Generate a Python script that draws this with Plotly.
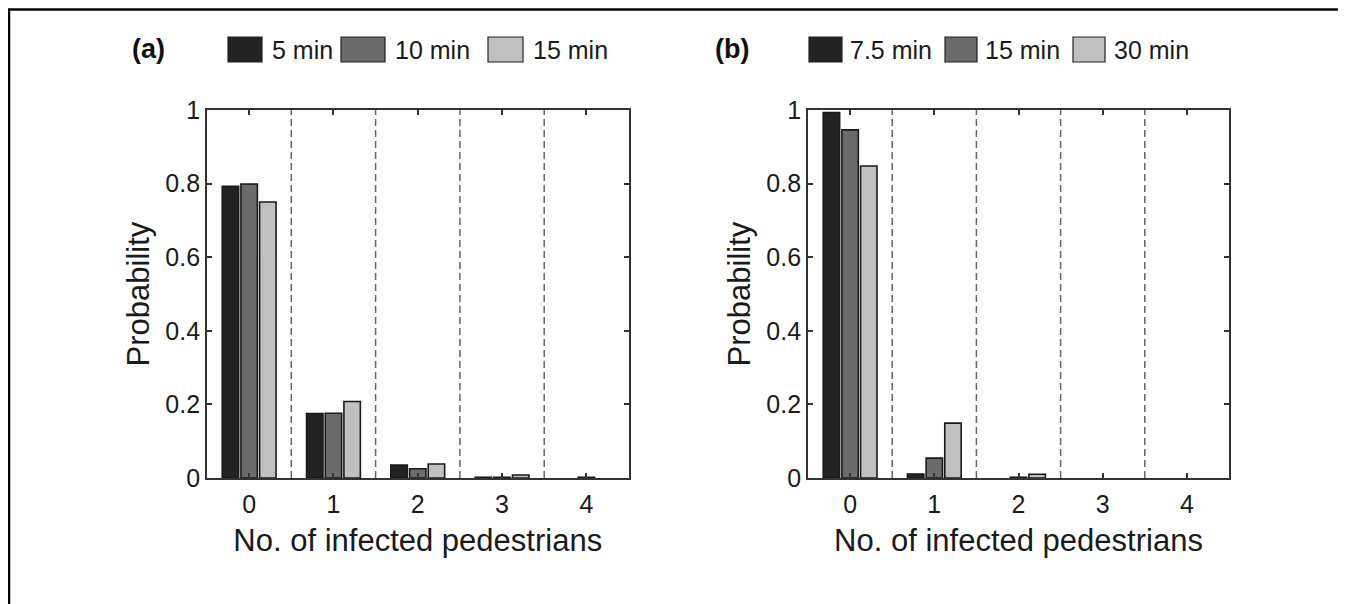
import plotly.graph_objects as go

categories = [0, 1, 2, 3, 4]

series_a_names = ["5 min", "10 min", "15 min"]
series_a_values = [
    [0.793, 0.175, 0.035, 0.002, 0.0],
    [0.799, 0.176, 0.025, 0.002, 0.002],
    [0.750, 0.208, 0.038, 0.008, 0.0],
]

series_b_names = ["7.5 min", "15 min", "30 min"]
series_b_values = [
    [0.993, 0.011, 0.0, 0.0, 0.0],
    [0.946, 0.054, 0.002, 0.0, 0.0],
    [0.848, 0.149, 0.010, 0.0, 0.0],
]

panel_labels = ["(a)", "(b)"]
y_ticks = [0, 0.2, 0.4, 0.6, 0.8, 1]
y_tick_text = ["0", "0.2", "0.4", "0.6", "0.8", "1"]

colors = ["#232323", "#6b6b6b", "#c0c0c0"]
edge = "#1a1a1a"
FONT = "Liberation Sans, Arial, sans-serif"
W, H = 1346, 604
OFF = 8  # page body margin

fig = go.Figure()

for k, (names, vals) in enumerate([(series_a_names, series_a_values), (series_b_names, series_b_values)]):
    xa = "x" if k == 0 else "x2"
    ya = "y" if k == 0 else "y2"
    for i, (n, v) in enumerate(zip(names, vals)):
        fig.add_trace(go.Bar(
            x=categories, y=v, name=n, xaxis=xa, yaxis=ya,
            marker=dict(color=colors[i],
                        line=dict(color=edge, width=[1.6 if val > 0 else 0 for val in v])),
            offsetgroup=str(i), showlegend=False,
        ))

def px(x):
    return (x - OFF) / W

def py(y):
    return 1 - (y - OFF) / H

axis_common = dict(
    showline=True, linecolor="#333333", linewidth=1.8, mirror="ticks",
    ticks="inside", ticklen=5, tickwidth=1.5, tickcolor="#333333",
    showgrid=False, zeroline=False, automargin=False,
    tickfont=dict(family=FONT, size=25, color="#1a1a1a"),
)

dom_a = [px(207), px(628.5)]
dom_b = [px(808), px(1229)]
dom_y = [py(478), py(110)]

xcommon = dict(axis_common, range=[-0.5, 4.5], tickmode="array", tickvals=categories,
               ticktext=[str(c) for c in categories], ticklabelstandoff=3,
               title=dict(text="No. of infected pedestrians", font=dict(family=FONT, size=31, color="#1a1a1a"), standoff=12))
ycommon = dict(axis_common, range=[0, 1], tickmode="array", tickvals=y_ticks, ticktext=y_tick_text,
               ticklabelstandoff=0,
               title=dict(text="Probability", font=dict(family=FONT, size=31, color="#1a1a1a"), standoff=6))

fig.update_layout(
    width=W, height=H,
    margin=dict(l=0, r=0, t=0, b=0, autoexpand=False),
    paper_bgcolor="white", plot_bgcolor="white",
    barmode="group", bargap=0.335, bargroupgap=0.12,
    xaxis=dict(xcommon, domain=dom_a, anchor="y"),
    yaxis=dict(ycommon, domain=dom_y, anchor="x"),
    xaxis2=dict(xcommon, domain=dom_b, anchor="y2"),
    yaxis2=dict(ycommon, domain=dom_y, anchor="x2"),
    font=dict(family=FONT, color="#1a1a1a"),
)

shapes = []
annotations = []

# dashed separators between categories
for xr, yr in [("x", "y domain"), ("x2", "y2 domain")]:
    for c in categories[:-1]:
        shapes.append(dict(type="line", xref=xr, yref=yr, x0=c + 0.5, x1=c + 0.5, y0=0, y1=1,
                           line=dict(color="#666666", width=1.5, dash="7px,4px"), layer="below"))

# custom legends above each panel
legend_layout = [
    dict(label_x=148, boxes=[(228, 262, 270), (341, 385, 393), (488, 523, 531)]),
    dict(label_x=732, boxes=[(809, 842, 848), (945, 977, 983), (1073, 1105, 1112)]),
]
for k, (lab, names) in enumerate(zip(panel_labels, [series_a_names, series_b_names])):
    L = legend_layout[k]
    annotations.append(dict(text="<b>%s</b>" % lab, xref="paper", yref="paper", x=px(L["label_x"]), y=py(49),
                            showarrow=False, xanchor="center", yanchor="middle",
                            font=dict(family=FONT, size=27, color="#111111")))
    for i, n in enumerate(names):
        x0, x1, tx = L["boxes"][i]
        shapes.append(dict(type="rect", xref="paper", yref="paper", x0=px(x0), x1=px(x1), y0=py(62), y1=py(37),
                           fillcolor=colors[i], line=dict(color="#222222", width=1.2)))
        annotations.append(dict(text=n, xref="paper", yref="paper", x=px(tx), y=py(49.5),
                                showarrow=False, xanchor="left", yanchor="middle",
                                font=dict(family=FONT, size=25, color="#1a1a1a")))

# outer frame
shapes.append(dict(type="rect", xref="paper", yref="paper", x0=px(9), x1=px(1344), y0=-0.05, y1=py(9.5),
                   line=dict(color="black", width=2.5), fillcolor="rgba(0,0,0,0)"))

fig.update_layout(shapes=shapes, annotations=annotations)

fig.write_html("out.html")
